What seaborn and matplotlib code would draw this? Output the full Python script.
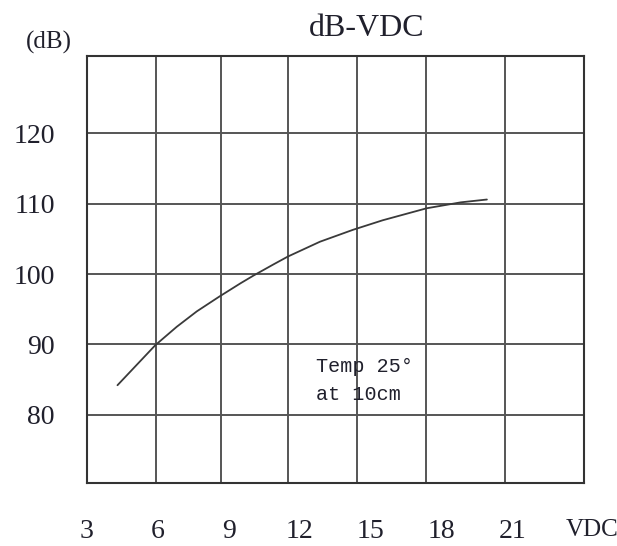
import matplotlib
matplotlib.use("Agg")
import matplotlib.pyplot as plt
import seaborn as sns
import pandas as pd

# sound level vs supply voltage
vdc = [4.3, 5.9, 6.8, 7.65, 8.6, 9.5, 10.05, 10.9, 11.5, 12.85, 14.25, 15.5, 17.35, 18.8, 19.9]
db = [84.2, 89.9, 92.5, 94.7, 96.8, 98.7, 99.8, 101.4, 102.5, 104.6, 106.3, 107.65, 109.35, 110.2, 110.6]

x_ticks = [3, 6, 9, 12, 15, 18, 21]
y_ticks = [80, 90, 100, 110, 120]

df = pd.DataFrame({'vdc': vdc, 'db': db})

sns.set_style("white")
plt.rcParams['font.family'] = ['Liberation Serif', 'DejaVu Serif']
txt_col = '#20202c'

fig = plt.figure(figsize=(6.17, 5.46), dpi=100)
ax = fig.add_axes([0.1405, 0.1159, 0.8060, 0.7815])

sns.lineplot(data=df, x='vdc', y='db', ax=ax, color='#3a3a3a', linewidth=1.3)

ax.set_xlim(3, 24)
ax.set_ylim(70.34, 131.0)

# the printed grid is not evenly spaced, so vertical lines go on minor ticks
grid_x = [5.914, 8.671, 11.513, 14.427, 17.315, 20.677]
ax.set_xticks(x_ticks)
ax.set_xticks(grid_x, minor=True)
ax.set_yticks(y_ticks)
ax.grid(False)
ax.grid(True, which='minor', axis='x', color='#555555', linewidth=1.4)
ax.grid(True, which='major', axis='y', color='#555555', linewidth=1.4)

ax.tick_params(axis='both', which='both', length=0)
ax.tick_params(axis='x', labelsize=20, pad=26, labelcolor=txt_col)
ax.tick_params(axis='y', labelsize=20, pad=23, labelcolor=txt_col)

for s in ax.spines.values():
    s.set_visible(True)
    s.set_color('#333333')
    s.set_linewidth(1.5)

ax.set_xlabel('')
ax.set_ylabel('')

ax.text(12.7, 84.9, 'Temp 25°\nat 10cm', family=['Liberation Mono', 'DejaVu Sans Mono'],
        fontsize=14.5, color=txt_col, ha='left', va='center', linespacing=1.6)

fig.text(0.5948, 0.9487, 'dB-VDC', fontsize=23, color=txt_col, ha='center', va='center')
fig.text(0.0794, 0.9218, '(dB)', fontsize=18, color=txt_col, ha='center', va='center')
fig.text(0.9595, 0.0293, 'VDC', fontsize=18, color=txt_col, ha='center', va='center')

fig.savefig('out.png', dpi=100)
